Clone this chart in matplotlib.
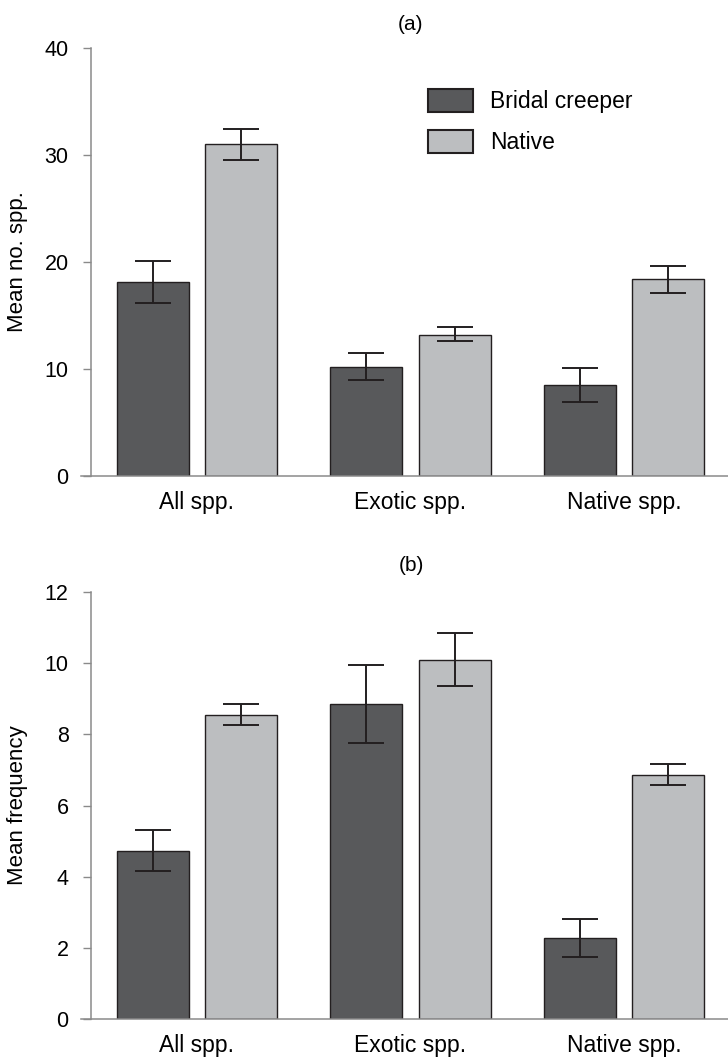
import numpy as np
import matplotlib
matplotlib.use("Agg")
import matplotlib.pyplot as plt

plt.rcParams['font.family'] = ['Liberation Sans', 'DejaVu Sans']

categories = ["All spp.", "Exotic spp.", "Native spp."]
series = ["Bridal creeper", "Native"]

# panel (a): mean number of species
a_bridal = [18.1, 10.2, 8.5]
a_bridal_lo = [16.2, 9.0, 6.9]
a_bridal_hi = [20.1, 11.5, 10.1]
a_native = [31.0, 13.2, 18.4]
a_native_lo = [29.5, 12.6, 17.1]
a_native_hi = [32.4, 13.9, 19.6]

# panel (b): mean frequency
b_bridal = [4.72, 8.85, 2.27]
b_bridal_lo = [4.15, 7.75, 1.75]
b_bridal_hi = [5.3, 9.95, 2.8]
b_native = [8.55, 10.1, 6.87]
b_native_lo = [8.25, 9.35, 6.57]
b_native_hi = [8.85, 10.85, 7.17]

DARK = "#58595b"
LIGHT = "#bcbec0"
EDGE = "#231f20"
SPINE = "#8a8a8a"
W = 0.337
OFF = 0.208


def draw_panel(ax, bc, bc_lo, bc_hi, nv, nv_lo, nv_hi, ylim, yticks, ylabel, title, title_pad):
    x = np.arange(len(categories))
    bc = np.array(bc)
    nv = np.array(nv)
    err_bc = [bc - np.array(bc_lo), np.array(bc_hi) - bc]
    err_nv = [nv - np.array(nv_lo), np.array(nv_hi) - nv]
    ax.bar(x - OFF, bc, W, color=DARK, edgecolor=EDGE, linewidth=1.0,
           label=series[0], zorder=2)
    ax.bar(x + OFF, nv, W, color=LIGHT, edgecolor=EDGE, linewidth=1.0,
           label=series[1], zorder=2)
    ekw = dict(fmt="none", ecolor=EDGE, elinewidth=1.4, capsize=13, capthick=1.4, zorder=3)
    ax.errorbar(x - OFF, bc, yerr=err_bc, **ekw)
    ax.errorbar(x + OFF, nv, yerr=err_nv, **ekw)

    ax.set_xlim(-0.543, 2.487)
    ax.set_ylim(*ylim)
    ax.set_yticks(yticks)
    ax.set_xticks(x)
    ax.set_xticklabels(categories, fontsize=16.5)
    ax.tick_params(axis="x", length=0, pad=11)
    ax.tick_params(axis="y", length=6, width=1, color=SPINE, labelsize=15.5, pad=10)
    for s in ["top", "right"]:
        ax.spines[s].set_visible(False)
    ax.spines["left"].set_position(("data", -0.497))
    ax.spines["left"].set_color(SPINE)
    ax.spines["bottom"].set_color(SPINE)
    ax.spines["left"].set_linewidth(1.1)
    ax.spines["bottom"].set_linewidth(1.1)
    ax.set_ylabel(ylabel, fontsize=16, labelpad=12)
    ax.set_title(title, fontsize=15, pad=title_pad, x=0.51)


fig = plt.figure(figsize=(7.28, 10.59), dpi=100)
ax1 = fig.add_axes([81 / 728, 1 - 476 / 1059, 1 - 81 / 728, (476 - 48) / 1059])
ax2 = fig.add_axes([81 / 728, 1 - 1019 / 1059, 1 - 81 / 728, (1019 - 592) / 1059])

draw_panel(ax1, a_bridal, a_bridal_lo, a_bridal_hi, a_native, a_native_lo, a_native_hi,
           (0, 40), [0, 10, 20, 30, 40], "Mean no. spp.", "(a)", 13)
draw_panel(ax2, b_bridal, b_bridal_lo, b_bridal_hi, b_native, b_native_lo, b_native_hi,
           (0, 12), [0, 2, 4, 6, 8, 10, 12], "Mean frequency", "(b)", 15)

leg = ax1.legend(loc="upper left", bbox_to_anchor=(0.536, 0.904), frameon=False, fontsize=16.5,
                 borderpad=0, borderaxespad=0,
                 handlelength=1.96, handleheight=1.13, labelspacing=0.75, handletextpad=0.75)
for h in leg.legend_handles:
    h.set_linewidth(1.5)

fig.savefig("out.png", dpi=100)
